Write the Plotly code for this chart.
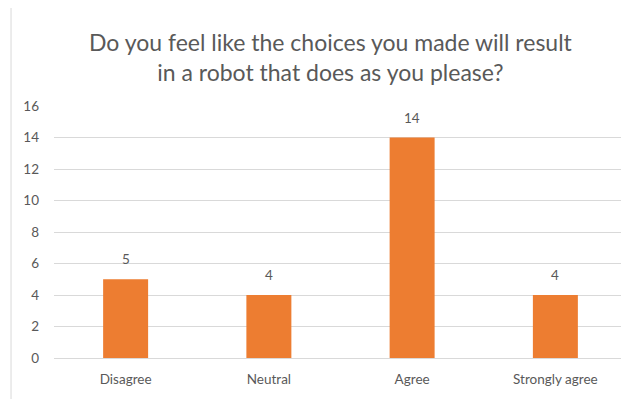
import plotly.graph_objects as go

categories = ["Disagree", "Neutral", "Agree", "Strongly agree"]
values = [5, 4, 14, 4]
y_ticks = [0, 2, 4, 6, 8, 10, 12, 14, 16]
title_text = "Do you feel like the choices you made will result<br>in a robot that does as you please?"

FONT = "Lato, Calibri, Carlito, 'Open Sans', sans-serif"
GRAY = "#595959"
GRID = "#d9d9d9"

fig = go.Figure()
fig.add_trace(go.Bar(
    x=categories, y=values,
    marker=dict(color="#ED7D31", line=dict(width=0)),
    hoverinfo="skip",
))

for c, v in zip(categories, values):
    fig.add_annotation(x=c, y=v, text=str(v), showarrow=False,
                       yanchor="bottom", yshift=10,
                       font=dict(family=FONT, size=13.5, color=GRAY))

fig.add_annotation(xref="paper", yref="paper", x=0.4834, y=1.317,
                   xanchor="center", yanchor="top",
                   text=title_text, showarrow=False, align="center",
                   font=dict(family=FONT, size=23, color=GRAY))

fig.add_shape(type="rect", xref="paper", yref="paper",
              x0=-0.075, x1=1.2, y0=-0.5, y1=1.393,
              line=dict(color=GRID, width=1), fillcolor="rgba(0,0,0,0)", layer="below")

fig.update_layout(
    width=629, height=399,
    margin=dict(l=46, r=10, t=98, b=49),
    paper_bgcolor="white", plot_bgcolor="white",
    bargap=0.686,
    showlegend=False,
    font=dict(family=FONT, size=13.5, color=GRAY),
    xaxis=dict(showgrid=False, showline=False, ticks="", ticklen=0,
               ticklabelstandoff=11,
               tickfont=dict(family=FONT, size=13.5, color=GRAY)),
    yaxis=dict(range=[0, 16], tickvals=y_ticks, showgrid=True, gridcolor=GRID,
               gridwidth=1, zeroline=True, zerolinecolor=GRID, zerolinewidth=1,
               showline=False, ticks="", ticklabelstandoff=14,
               tickfont=dict(family=FONT, size=13.5, color=GRAY)),
)

fig.write_html("out.html")
